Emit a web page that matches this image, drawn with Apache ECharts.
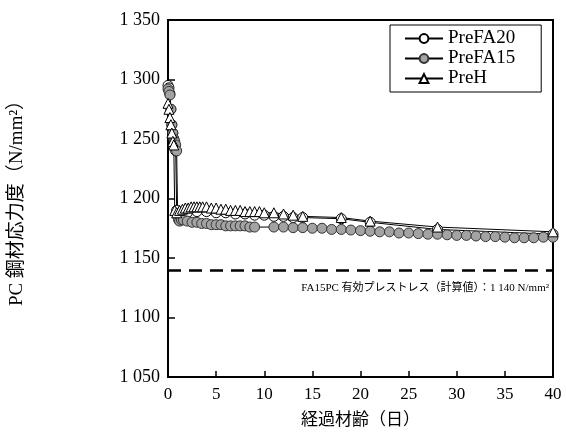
<!DOCTYPE html>
<html>
<head>
<meta charset="utf-8">
<script src="https://cdn.jsdelivr.net/npm/echarts@6/dist/echarts.min.js"></script>
<style>
  html, body { margin: 0; padding: 0; background: #fff; }
  #main { width: 566px; height: 434px; }
</style>
</head>
<body>
<div id="main"></div>
<script>
    // 経過材齢（日）と PC 鋼材応力度（N/mm2）
    var fa20Days = [0, 0.1, 0.2, 0.3, 0.4, 0.5, 0.6, 0.7, 0.8, 0.9, 1.0, 1.5, 2, 3, 4, 5, 6, 7, 8, 9, 10, 11, 12, 13, 14, 18, 21, 28, 40];
    var fa20Vals = [1295, 1293, 1288, 1275, 1262, 1255, 1250, 1245, 1240, 1190, 1187, 1187, 1188, 1189, 1189, 1188, 1188, 1187, 1187, 1186, 1186, 1185, 1185, 1184, 1184, 1183, 1180, 1174, 1170];

    var fa15Days = [0, 0.1, 0.2, 0.3, 0.4, 0.5, 0.6, 0.7, 0.8, 0.9, 1.0, 1.1, 1.2, 1.4, 1.6, 2, 2.5, 3, 3.5, 4, 4.5, 5, 5.5, 6, 6.5, 7, 7.5, 8, 8.5, 9, 11, 12, 13, 14, 15, 16, 17, 18, 19, 20, 21, 22, 23, 24, 25, 26, 27, 28, 29, 30, 31, 32, 33, 34, 35, 36, 37, 38, 39, 40];
    var fa15Vals = [1292, 1290, 1287, 1275, 1262, 1255, 1250, 1248, 1245, 1240, 1185, 1182, 1181, 1182, 1182, 1181, 1180, 1180, 1179, 1179, 1178, 1178, 1178, 1177, 1177, 1177, 1177, 1177, 1176, 1176, 1176, 1176, 1175.5, 1175.5, 1175, 1175, 1174, 1174, 1173.5, 1173, 1172.5, 1172, 1172, 1171, 1171, 1170.5, 1170, 1170, 1169.5, 1169, 1169, 1168.5, 1168, 1168, 1167.5, 1167, 1167, 1167, 1167.5, 1167.5];

    var preHDays = [0, 0.1, 0.2, 0.3, 0.4, 0.5, 0.6, 0.7, 0.9, 1.2, 1.5, 1.8, 2.1, 2.4, 2.7, 3, 3.3, 3.6, 4, 4.5, 5, 5.5, 6, 6.5, 7, 7.5, 8, 8.5, 9, 9.5, 10, 11, 12, 13, 14, 18, 21, 28, 40];
    var preHVals = [1280, 1275, 1268, 1262, 1255, 1248, 1245, 1190, 1188, 1190, 1191, 1192, 1192, 1193, 1193, 1193, 1193, 1193, 1193, 1192, 1192, 1191, 1191, 1190, 1190, 1190, 1189, 1189, 1189, 1189, 1188, 1188, 1187, 1186, 1185, 1184, 1181, 1176, 1172];

    var seriesNames = ['PreFA20', 'PreFA15', 'PreH'];
    var limitValue = 1140;
    var limitText = 'FA15PC 有効プレストレス（計算値）：1 140 N/mm²';

    var FONT = "'Liberation Serif', 'Times New Roman', 'Noto Sans CJK JP', serif";

    function pairs(days, vals) {
        var out = [];
        for (var i = 0; i < days.length; i++) {
            out.push([days[i], vals[i]]);
        }
        return out;
    }

    function spaced(v) {
        return String(v).replace(/\B(?=(\d{3})+$)/, ' ');
    }

    var myChart = echarts.init(document.getElementById('main'));
    myChart.setOption({
        animation: false,
        backgroundColor: '#fff',
        grid: {
            left: 168,
            right: 13,
            top: 20,
            bottom: 51,
            show: true,
            borderColor: '#000',
            borderWidth: 2
        },
        legend: {
            orient: 'vertical',
            left: 390,
            top: 25,
            padding: [4, 26, 4, 14],
            itemWidth: 38,
            itemHeight: 11,
            itemGap: 1,
            backgroundColor: '#fff',
            borderColor: '#000',
            borderWidth: 1,
            textStyle: { fontFamily: FONT, fontSize: 19, color: '#000' },
            data: seriesNames
        },
        xAxis: {
            type: 'value',
            min: 0,
            max: 40,
            interval: 5,
            name: '経過材齢（日）',
            nameLocation: 'middle',
            nameGap: 35,
            nameTextStyle: { fontFamily: FONT, fontSize: 17, color: '#000' },
            axisLine: { lineStyle: { color: '#000', width: 2 } },
            axisTick: { inside: true, length: 6, lineStyle: { color: '#000', width: 1.5 } },
            axisLabel: { fontFamily: FONT, fontSize: 17, color: '#000', margin: 9 },
            splitLine: { show: false }
        },
        yAxis: {
            type: 'value',
            min: 1050,
            max: 1350,
            interval: 50,
            name: 'PC 鋼材応力度（N/mm²）',
            nameLocation: 'middle',
            nameGap: 141,
            nameTextStyle: { fontFamily: FONT, fontSize: 19, color: '#000' },
            axisLine: { lineStyle: { color: '#000', width: 2 } },
            axisTick: { inside: true, length: 7, lineStyle: { color: '#000', width: 1.5 } },
            axisLabel: { fontFamily: FONT, fontSize: 18, color: '#000', margin: 8, formatter: spaced },
            splitLine: { show: false }
        },
        series: [
            {
                name: 'PreFA20',
                type: 'line',
                data: pairs(fa20Days, fa20Vals),
                symbol: 'circle',
                symbolSize: 10,
                itemStyle: { color: '#fff', borderColor: '#000', borderWidth: 1 },
                lineStyle: { color: '#000', width: 1 }
            },
            {
                name: 'PreFA15',
                type: 'line',
                data: pairs(fa15Days, fa15Vals),
                symbol: 'circle',
                symbolSize: 10,
                itemStyle: { color: '#a3a3a3', borderColor: '#333', borderWidth: 1 },
                lineStyle: { color: '#000', width: 1 },
                markLine: {
                    silent: true,
                    symbol: 'none',
                    lineStyle: { color: '#000', width: 2.6, type: [13, 8] },
                    label: {
                        position: 'insideEndBottom',
                        formatter: limitText,
                        fontFamily: FONT,
                        fontSize: 11,
                        color: '#000',
                        distance: [4, 13]
                    },
                    data: [{ yAxis: limitValue }]
                }
            },
            {
                name: 'PreH',
                type: 'line',
                data: pairs(preHDays, preHVals),
                symbol: 'triangle',
                symbolSize: 10,
                itemStyle: { color: '#fff', borderColor: '#000', borderWidth: 1 },
                lineStyle: { color: '#000', width: 1 }
            }
        ]
    });
</script>
</body>
</html>
